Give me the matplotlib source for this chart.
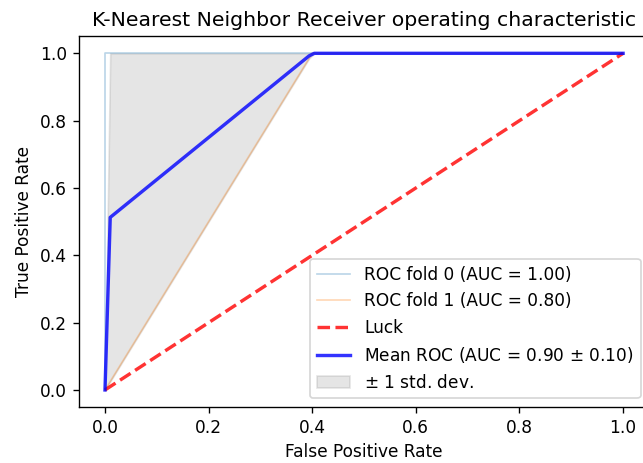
import numpy as np
import matplotlib
matplotlib.use('Agg')
from matplotlib import pyplot as plt

# ROC points for each cross-validation fold
fold_fpr = [[0.0, 0.0, 1.0],
            [0.0, 0.4, 1.0]]
fold_tpr = [[0.0, 1.0, 1.0],
            [0.0, 1.0, 1.0]]
fold_names = ['ROC fold 0', 'ROC fold 1']


def auc(x, y):
    return float(np.trapezoid(y, x))


DPI = 122
fig = plt.figure(figsize=(643 / DPI, 463 / DPI), dpi=DPI)
ax = fig.add_axes([0.123, 0.1214, 0.8863, 0.7998])

mean_fpr = np.linspace(0, 1, 100)
tprs = []
aucs = []
for i, (fpr, tpr) in enumerate(zip(fold_fpr, fold_tpr)):
    roc_auc = auc(fpr, tpr)
    aucs.append(roc_auc)
    ax.plot(fpr, tpr, lw=1, alpha=0.3,
            label='%s (AUC = %0.2f)' % (fold_names[i], roc_auc))
    interp_tpr = np.interp(mean_fpr, fpr, tpr)
    interp_tpr[0] = 0.0
    tprs.append(interp_tpr)

ax.plot([0, 1], [0, 1], linestyle='--', lw=2, color='r', label='Luck', alpha=.8)

mean_tpr = np.mean(tprs, axis=0)
mean_tpr[-1] = 1.0
mean_auc = auc(mean_fpr, mean_tpr)
std_auc = np.std(aucs)
ax.plot(mean_fpr, mean_tpr, color='b',
        label=r'Mean ROC (AUC = %0.2f $\pm$ %0.2f)' % (mean_auc, std_auc),
        lw=2, alpha=.8)

std_tpr = np.std(tprs, axis=0)
tprs_upper = np.minimum(mean_tpr + std_tpr, 1)
tprs_lower = np.maximum(mean_tpr - std_tpr, 0)
ax.fill_between(mean_fpr, tprs_lower, tprs_upper, color='grey', alpha=.2,
                label=r'$\pm$ 1 std. dev.')

ax.set_xlim([-0.05, 1.05])
ax.set_ylim([-0.05, 1.05])
ax.set_xlabel('False Positive Rate')
ax.set_ylabel('True Positive Rate')
ax.set_title('K-Nearest Neighbor Receiver operating characteristic')
ax.legend(loc='lower right')

fig.savefig('out.png', dpi=DPI)
